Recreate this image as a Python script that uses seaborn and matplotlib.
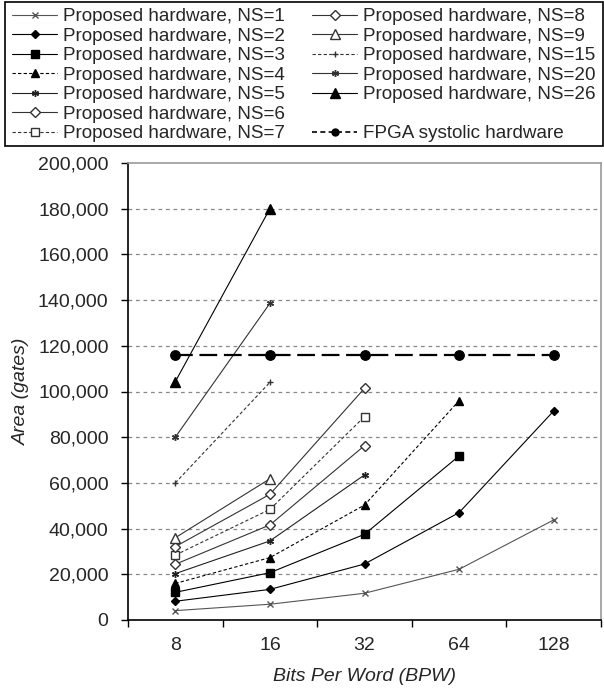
import matplotlib
matplotlib.use("Agg")
import matplotlib.pyplot as plt
import matplotlib.patches as mpatches
from matplotlib.ticker import FuncFormatter, FixedLocator
import seaborn as sns
import numpy as np

sns.set_theme(style="white")
plt.rcParams['font.family'] = ['Liberation Sans', 'DejaVu Sans']

bpw = ["8", "16", "32", "64", "128"]

ns1 = [4100, 6900, 11700, 22200, 43800]
ns2 = [8200, 13400, 24500, 47000, 91500]
ns3 = [12100, 20700, 37500, 71800]
ns4 = [16000, 27300, 50300, 96000]
ns5 = [20300, 34600, 63500]
ns6 = [24400, 41600, 76300]
ns7 = [28400, 48400, 89000]
ns8 = [32100, 55000, 101400]
ns9 = [36000, 61800]
ns15 = [60000, 104000]
ns20 = [80000, 138600]
ns26 = [104300, 180000]
fpga = [116000, 116000, 116000, 116000, 116000]

ast = (6, 2, 0)
series = [
    ("Proposed hardware, NS=1", ns1, dict(marker="x", ms=4, color="#555555", ls="-", mfc="#555555")),
    ("Proposed hardware, NS=2", ns2, dict(marker="D", ms=4, color="black", ls="-", mfc="black")),
    ("Proposed hardware, NS=3", ns3, dict(marker="s", ms=5.5, color="black", ls="-", mfc="black")),
    ("Proposed hardware, NS=4", ns4, dict(marker="^", ms=6, color="black", ls=(0, (3, 2)), mfc="black")),
    ("Proposed hardware, NS=5", ns5, dict(marker=ast, ms=5, color="#222222", ls="-", mfc="black")),
    ("Proposed hardware, NS=6", ns6, dict(marker="D", ms=5, color="#333333", ls="-", mfc="white")),
    ("Proposed hardware, NS=7", ns7, dict(marker="s", ms=5.5, color="#333333", ls=(0, (3, 2)), mfc="white")),
    ("Proposed hardware, NS=8", ns8, dict(marker="D", ms=5, color="#333333", ls="-", mfc="white")),
    ("Proposed hardware, NS=9", ns9, dict(marker="^", ms=6.5, color="#333333", ls="-", mfc="white")),
    ("Proposed hardware, NS=15", ns15, dict(marker="+", ms=5, color="#333333", ls=(0, (3, 2)), mfc="black")),
    ("Proposed hardware, NS=20", ns20, dict(marker=ast, ms=5, color="#333333", ls="-", mfc="black")),
    ("Proposed hardware, NS=26", ns26, dict(marker="^", ms=6.5, color="black", ls="-", mfc="black")),
]

fig = plt.figure(figsize=(6.04, 6.96), dpi=100)
ax = fig.add_axes([128/604, 1-620/696, (601-128)/604, (620-163)/696])

handles = {}
for label, vals, st in series:
    x = np.arange(len(vals))
    sns.lineplot(x=x, y=vals, ax=ax, color=st["color"], linestyle=st["ls"], lw=0.8,
                 marker=st["marker"], markersize=st["ms"], markerfacecolor=st["mfc"],
                 markeredgecolor=st["color"], markeredgewidth=1.0, legend=False)
    handles[label] = ax.lines[-1]

sns.lineplot(x=np.arange(len(fpga)), y=fpga, ax=ax, color="black", linestyle=(0, (8, 3)),
             lw=1.6, marker="o", markersize=7, markerfacecolor="black",
             markeredgecolor="black", legend=False)
handles["FPGA systolic hardware"] = ax.lines[-1]
fpga_leg = plt.Line2D([], [], color="black", linestyle=(0, (3, 2)), lw=1.2, marker="o",
                      markersize=5, markerfacecolor="black")

ax.set_xlim(-0.5, len(bpw) - 0.5)
ax.set_ylim(0, 200000)
ax.set_xticks(range(len(bpw)))
ax.set_xticklabels(bpw)
ax.xaxis.set_minor_locator(FixedLocator(np.arange(-0.5, len(bpw), 1.0)))
ax.tick_params(axis="x", which="major", length=0, pad=12, labelsize=14)
ax.tick_params(axis="x", which="minor", length=5, width=1, color="black", direction="out", bottom=True)
ax.set_yticks(np.arange(0, 200001, 20000))
ax.yaxis.set_major_formatter(FuncFormatter(lambda v, p: f"{int(v):,}"))
ax.tick_params(axis="y", length=5, width=1, color="black", direction="out", left=True, labelsize=14, pad=9)
for yv in range(20000, 200000, 20000):
    ax.axhline(yv, color="#888888", lw=0.9, ls=(0, (3, 3)), zorder=0)

for s in ["left", "bottom"]:
    ax.spines[s].set_color("black")
    ax.spines[s].set_linewidth(1.2)
for s in ["top", "right"]:
    ax.spines[s].set_color("#999999")
    ax.spines[s].set_linewidth(1.2)

ax.set_xlabel("Bits Per Word (BPW)", fontsize=14, style="italic", labelpad=10)
ax.set_ylabel("Area (gates)", fontsize=14, style="italic", labelpad=6)

# legend
left_labels = [s[0] for s in series[:7]]
right_labels = [s[0] for s in series[7:]]
blank = plt.Line2D([], [], color="none")
leg_kw = dict(frameon=False, fontsize=13.6, handlelength=2.4, handletextpad=0.3,
              labelspacing=0.12, borderpad=0, borderaxespad=0, loc="upper left")
l1 = fig.legend([handles[l] for l in left_labels], left_labels,
                bbox_to_anchor=(12/604, 1-8/696), **leg_kw)
r_h = [handles[l] for l in right_labels] + [blank, fpga_leg]
r_l = right_labels + ["", "FPGA systolic hardware"]
l2 = fig.legend(r_h, r_l, bbox_to_anchor=(312/604, 1-8/696), **leg_kw)

fig.patches.append(mpatches.Rectangle((5/604, 1-146/696), 598/604, 144/696,
                                      transform=fig.transFigure, fill=False,
                                      edgecolor="black", lw=1.2))

fig.savefig("out.png", dpi=100)
